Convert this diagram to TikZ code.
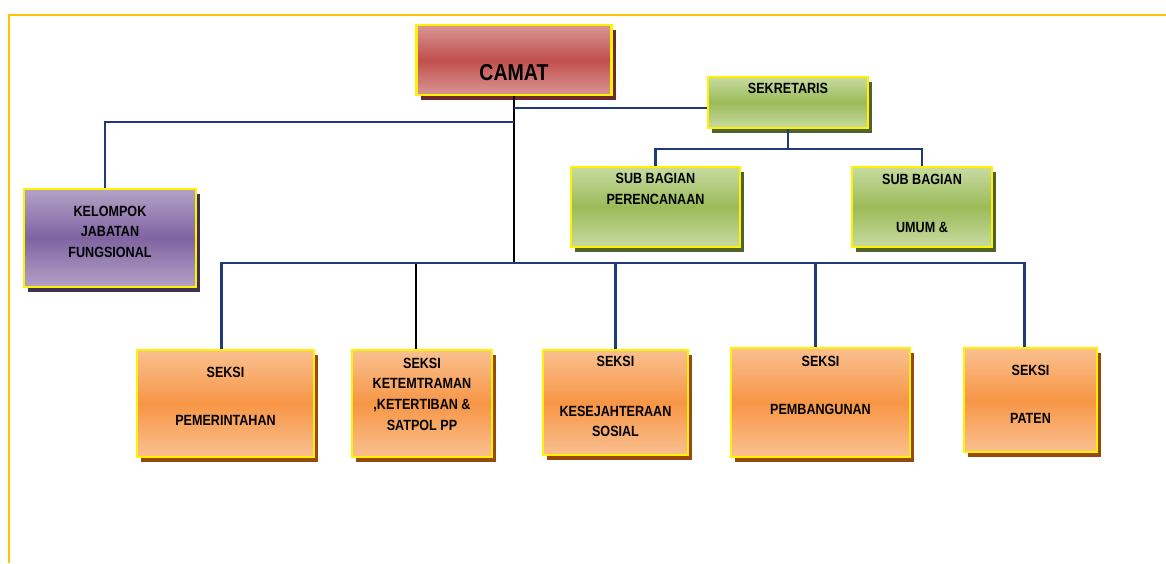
\documentclass[tikz,border=0pt]{standalone}
\usepackage{fontspec}
\setmainfont{Liberation Sans}[FakeStretch=0.85]
\usetikzlibrary{shadows}

\definecolor{gold}{HTML}{FFC000}
\definecolor{navy}{HTML}{1F3A78}
\definecolor{redlt}{HTML}{DA9694}
\definecolor{redmd}{HTML}{C0504D}
\definecolor{reddk}{HTML}{6E2A28}
\definecolor{greenlt}{HTML}{C8DBA0}
\definecolor{greenmd}{HTML}{9BBB59}
\definecolor{greendk}{HTML}{4F6228}
\definecolor{purplelt}{HTML}{B3A2C7}
\definecolor{purplemd}{HTML}{8064A2}
\definecolor{purpledk}{HTML}{3F3151}
\definecolor{orangelt}{HTML}{FAC090}
\definecolor{orangemd}{HTML}{F79646}
\definecolor{orangedk}{HTML}{984807}

\begin{document}
\begin{tikzpicture}[x=0.5pt,y=-0.5pt,
    frame/.style={draw=gold,line width=1pt},
    link/.style={draw=navy,line width=1.2pt},
    trunk/.style={draw=black,line width=1.1pt},
    box/.style={draw=yellow,line width=1.4pt,inner sep=0pt},
    txt/.style={align=center,font=\fontsize{7.4}{10.3}\selectfont\bfseries},
    redbox/.style={box,top color=redlt,bottom color=redlt,middle color=redmd,
        drop shadow={shadow xshift=2pt,shadow yshift=-2.5pt,fill=reddk,opacity=1}},
    greenbox/.style={box,top color=greenlt,bottom color=greenlt,middle color=greenmd,
        drop shadow={shadow xshift=2pt,shadow yshift=-2.5pt,fill=greendk,opacity=1}},
    purplebox/.style={box,top color=purplelt,bottom color=purplelt,middle color=purplemd,
        drop shadow={shadow xshift=2pt,shadow yshift=-2.5pt,fill=purpledk,opacity=1}},
    orangebox/.style={box,top color=orangelt,bottom color=orangelt,middle color=orangemd,
        drop shadow={shadow xshift=2pt,shadow yshift=-2.5pt,fill=orangedk,opacity=1}}]
    \useasboundingbox (0,0) rectangle (1166,563);
    \draw[frame] (1166,15) -| (9,563);

    % top
    \node[redbox,minimum width=97.5pt,minimum height=35pt] (camat) at (514,60) {};
    \node[txt,font=\fontsize{11.5}{12}\selectfont\bfseries] (camat-t) at (514,73) {CAMAT};
    \node[greenbox,minimum width=80pt,minimum height=25.5pt] (sek) at (788,102.5) {};
    \node[txt] (sek-t) at (788,88) {SEKRETARIS};
    \node[purplebox,minimum width=86pt,minimum height=49pt] (kel) at (110,238) {};
    \node[txt] (kel-t) at (110,231.5) {KELOMPOK\\JABATAN\\FUNGSIONAL};
    \node[greenbox,minimum width=84.5pt,minimum height=40pt] (sb1) at (655.5,207) {};
    \node[txt] (sb1-t) at (655.5,189) {SUB BAGIAN\\PERENCANAAN};
    \node[greenbox,minimum width=70pt,minimum height=40pt] (sb2) at (922,207) {};
    \node[txt] (sb2-t) at (922,203) {SUB BAGIAN\\[13.7pt]UMUM \&};

    % seksi
    \node[orangebox,minimum width=88.5pt,minimum height=53.5pt] (s1) at (225.5,403.5) {};
    \node[txt] (s1-t) at (225.5,396) {SEKSI\\[13.7pt]PEMERINTAHAN};
    \node[orangebox,minimum width=70pt,minimum height=53.5pt] (s2) at (422,403.5) {};
    \node[txt] (s2-t) at (422,394) {SEKSI\\KETEMTRAMAN\\,KETERTIBAN \&\\SATPOL PP};
    \node[orangebox,minimum width=72.5pt,minimum height=52.5pt] (s3) at (615.5,402.5) {};
    \node[txt] (s3-t) at (615.5,396.5) {SEKSI\\[14.7pt]KESEJAHTERAAN\\SOSIAL};
    \node[orangebox,minimum width=89.5pt,minimum height=54.5pt] (s4) at (820.5,402.5) {};
    \node[txt] (s4-t) at (820.5,385) {SEKSI\\[13.7pt]PEMBANGUNAN};
    \node[orangebox,minimum width=66.5pt,minimum height=52pt] (s5) at (1030.5,400) {};
    \node[txt] (s5-t) at (1030.5,394) {SEKSI\\[13.7pt]PATEN};

    % connectors
    \coordinate (jr) at (514,108);
    \coordinate (jl) at (514,122);
    \coordinate (bus) at (514,263);
    \coordinate (js) at (787,149);
    \draw[trunk] (camat) -- (bus);
    \draw[trunk] (bus) -| ([xshift=-3pt]s2.north);
    \draw[link] (jr) -- (jr -| sek.west);
    \draw[link] (jl) -| ([xshift=-2.5pt]kel.north);
    \draw[link] (sek) -- (sek |- js);
    \draw[link] (sb1) |- (js) -| (sb2);
    \draw[link] (bus) -| ([xshift=-2pt]s1.north);
    \draw[link] (bus) -| (s3);
    \draw[link] (bus) -| ([xshift=-2.5pt]s4.north);
    \draw[link] (bus) -| ([xshift=-3pt]s5.north);
\end{tikzpicture}
\end{document}
